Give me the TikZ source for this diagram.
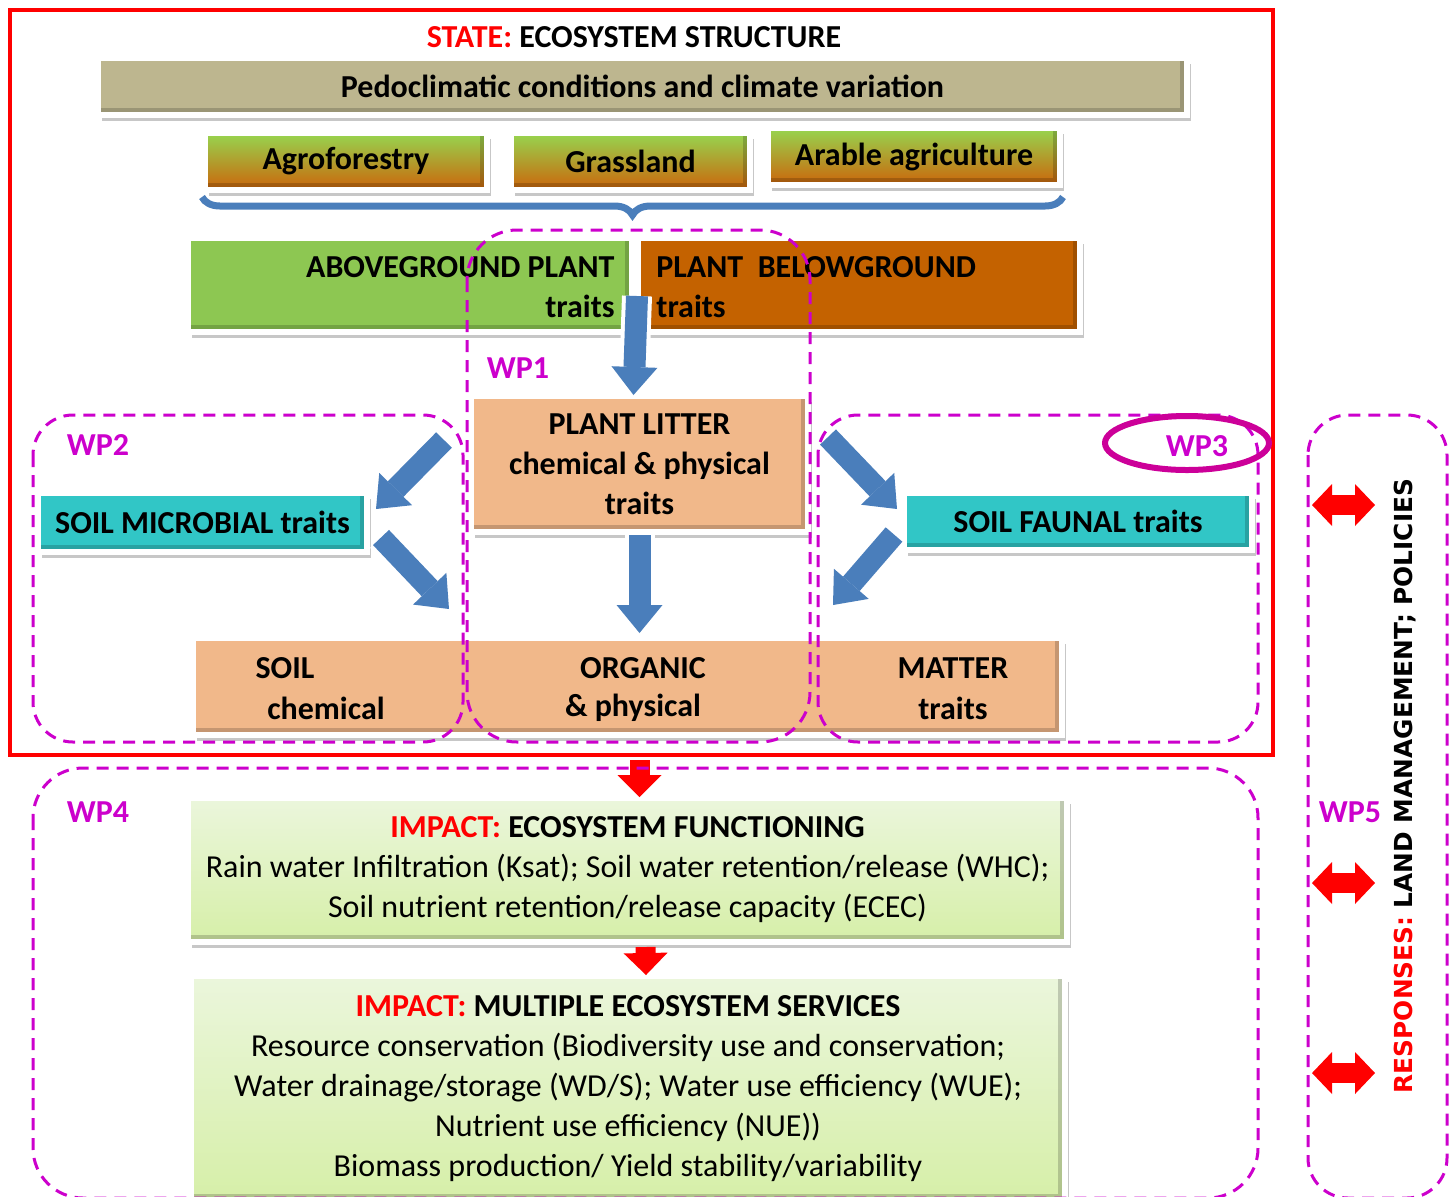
\documentclass[tikz,border=0pt]{standalone}
\usepackage{fontspec}
\setmainfont{Carlito}
\newfontfamily\respfont{DejaVu Sans}
\usetikzlibrary{arrows.meta,positioning,fit,shadows,shapes.geometric,decorations.pathreplacing}

\definecolor{statered}{HTML}{FF0000}
\definecolor{wpmag}{HTML}{CC00CC}
\definecolor{ringmag}{HTML}{CC0099}
\definecolor{climtan}{HTML}{BDB68F}
\definecolor{landgreen}{HTML}{96D650}
\definecolor{landolive}{HTML}{98AC3A}
\definecolor{landorange}{HTML}{CC640A}
\definecolor{leafgreen}{HTML}{8DC752}
\definecolor{rootbrown}{HTML}{C46200}
\definecolor{litterpeach}{HTML}{F1B88A}
\definecolor{soilteal}{HTML}{31C6C6}
\definecolor{paletop}{HTML}{EBF6DC}
\definecolor{palebottom}{HTML}{D6EFA8}
\definecolor{arrowblue}{HTML}{4A7EBB}

\begin{document}
\begin{tikzpicture}[x=0.5pt, y=-0.5pt,
  every node/.style={font=\fontsize{16}{20}\selectfont\bfseries},
  panel/.style={draw=white, line width=3pt, inner sep=0pt,
                drop shadow={shadow xshift=2pt, shadow yshift=-3pt, fill=black, opacity=.22},
                path picture={\draw[black, opacity=.18, line width=7pt]
                  (path picture bounding box.south west) -- (path picture bounding box.south east)
                  -- (path picture bounding box.north east);}},
  landpanel/.style={panel, top color=landgreen, middle color=landolive, bottom color=landorange},
  peachpanel/.style={panel, fill=litterpeach},
  tealpanel/.style={panel, fill=soilteal},
  palepanel/.style={panel, top color=paletop, bottom color=palebottom},
  wpframe/.style={draw=wpmag, line width=1.5pt, dash pattern=on 6pt off 4pt},
  wplabel/.style={text=wpmag},
  blockarr/.style={draw=arrowblue, line width=11pt,
                   -{Triangle[width=23pt,length=14pt,line width=0pt]},
                   preaction={draw=white, line width=15pt,
                              -{Triangle[width=30pt,length=17pt,line width=0pt]}}},
  redarr/.style={draw=statered, line width=10pt, -{Triangle[width=22pt,length=11pt,line width=0pt]}},
  dblarr/.style={draw=statered, line width=10pt,
                 {Triangle[width=21pt,length=10pt,line width=0pt]}-{Triangle[width=21pt,length=10pt,line width=0pt]}},
  groupbrace/.style={draw=arrowblue, line width=3.5pt, decorate, decoration={brace, amplitude=9pt}}
]
  \useasboundingbox (0,0) rectangle (1451,1196);
  \clip (0,0) rectangle (1451,1196);

  % state frame
  \draw[statered, line width=2pt] (10,10) rectangle (1273,755);
  \node (state) at (634,37) {\textcolor{statered}{STATE:} ECOSYSTEM STRUCTURE};

  \node[panel, fill=climtan, fit={(98,58) (1187,115)}] (pedo) {};
  \node[landpanel, fit={(205,133) (487,190)}] (agro)   {};
  \node[landpanel, fit={(511,133) (750,190)}] (grass)  {};
  \node[landpanel, fit={(768,128) (1060,185)}] (arable) {};
  \node (pedotxt)   at (pedo)   {Pedoclimatic conditions and climate variation};
  \node (agrotxt)   at (agro)   {Agroforestry};
  \node (grasstxt)  at (grass)  {Grassland};
  \node (arabletxt) at (arable) {Arable agriculture};
  \draw[groupbrace] ([shift={(0,9)}]arable.south east) -- ([shift={(0,4)}]agro.south west);

  \node[panel, fill=leafgreen, fit={(188,238) (632,332)}] (above) {};
  \node[panel, fill=rootbrown, fit={(638,238) (1080,332)}] (below) {};
  \node[anchor=east, align=right, inner sep=0pt] (abovetxt) at (615,287) {ABOVEGROUND PLANT\\traits};
  \node[anchor=west, align=left, inner sep=0pt]  (belowtxt) at (656,287) {PLANT\ \ BELOWGROUND\\traits};

  \node[peachpanel, fit={(471,396) (808,532)}] (litter) {};
  \node[tealpanel, fit={(38,493) (367,552)}]   (micro)  {};
  \node[tealpanel, fit={(904,493) (1252,550)}] (faunal) {};
  \node[align=center] (littertxt) at (litter) {PLANT LITTER\\chemical \& physical\\traits};
  \node (microtxt)  at (micro)  {SOIL MICROBIAL traits};
  \node (faunaltxt) at (faunal) {SOIL FAUNAL traits};

  \node[peachpanel, fit={(193,638) (1062,735)}] (som) {};
  \node (soil)      at (285,668) {SOIL};
  \node (chem)      at (326,708) {chemical};
  \node (organic)   at (643,668) {ORGANIC};
  \node (phys)      at (633,708) {\& physical};
  \node (matter)    at (953,668) {MATTER};
  \node (somtraits) at (953,708) {traits};

  \node[palepanel, fit={(188,798) (1067,942)}] (func) {};
  \node[palepanel, fit={(191,976) (1065,1201)}] (serv) {};
  \node[align=center] (functxt) at (func)
    {\textcolor{statered}{IMPACT:} ECOSYSTEM FUNCTIONING\\
     {\mdseries Rain water Infiltration (Ksat); Soil water retention/release (WHC);}\\
     {\mdseries Soil nutrient retention/release capacity (ECEC)}};
  \node[align=center] (servtxt) at (serv)
    {\textcolor{statered}{IMPACT:} MULTIPLE ECOSYSTEM SERVICES\\
     {\mdseries Resource conservation (Biodiversity use and conservation;}\\
     {\mdseries Water drainage/storage (WD/S); Water use efficiency (WUE);}\\
     {\mdseries Nutrient use efficiency (NUE))}\\
     {\mdseries Biomass production/ Yield stability/variability}};

  % flows between trait groups
  \draw[blockarr] ([shift={(2,11)}]above.east) -- ([shift={(-6,2)}]litter.north);
  \draw[blockarr] ([shift={(-24,47)}]litter.north west) -- ([shift={(6,19)}]micro.north east);
  \draw[blockarr] ([shift={(11,15)}]micro.east) -- ([shift={(259,-26)}]som.north west);
  \draw[blockarr] ([shift={(17,44)}]litter.north east) -- ([shift={(-4,19)}]faunal.north west);
  \draw[blockarr] ([shift={(-7,13)}]faunal.west) -- ([shift={(-232,-30)}]som.north east);
  \draw[blockarr] (litter.south) -- ([yshift=1pt]litter.south |- som.north);

  \draw[redarr] ([shift={(12,22)}]som.south) -- ([shift={(12,2)}]func.north);
  \draw[redarr] ([shift={(18,2)}]func.south) -- ([shift={(18,2)}]serv.north);

  % work packages
  \draw[wpframe, rounded corners=25pt] (467,230) rectangle (810,742);
  \draw[wpframe, rounded corners=20pt] (33,415) rectangle (463,742);
  \draw[wpframe, rounded corners=20pt] (818,415) rectangle (1258,742);
  \draw[wpframe, rounded corners=25pt] (33,768) rectangle (1258,1198);
  \draw[wpframe, rounded corners=20pt] (1308,415) rectangle (1447,1198);
  \node[wplabel] (wp1) at (518,368) {WP1};
  \node[wplabel] (wp2) at (98,445)  {WP2};
  \node[draw=ringmag, line width=3pt, ellipse, minimum width=82pt, minimum height=27pt] (ring) at (1187,443) {};
  \node[wplabel] (wp3) at (1197,446) {WP3};
  \node[wplabel] (wp4) at (98,812)  {WP4};
  \node[wplabel] (wp5) at (1350,812) {WP5};

  % responses
  \coordinate (resp1l) at (1312,505);  \coordinate (resp1r) at (1375,505);
  \coordinate (resp2l) at (1312,883);  \coordinate (resp2r) at (1375,883);
  \coordinate (resp3l) at (1312,1073); \coordinate (resp3r) at (1375,1073);
  \draw[dblarr] (resp1l) -- (resp1r);
  \draw[dblarr] (resp2l) -- (resp2r);
  \draw[dblarr] (resp3l) -- (resp3r);
  \node[rotate=90, font=\respfont\fontsize{12.4}{14}\selectfont\bfseries] (resp) at (1405,786)
    {\textcolor{statered}{RESPONSES:} LAND MANAGEMENT; POLICIES};
\end{tikzpicture}
\end{document}
